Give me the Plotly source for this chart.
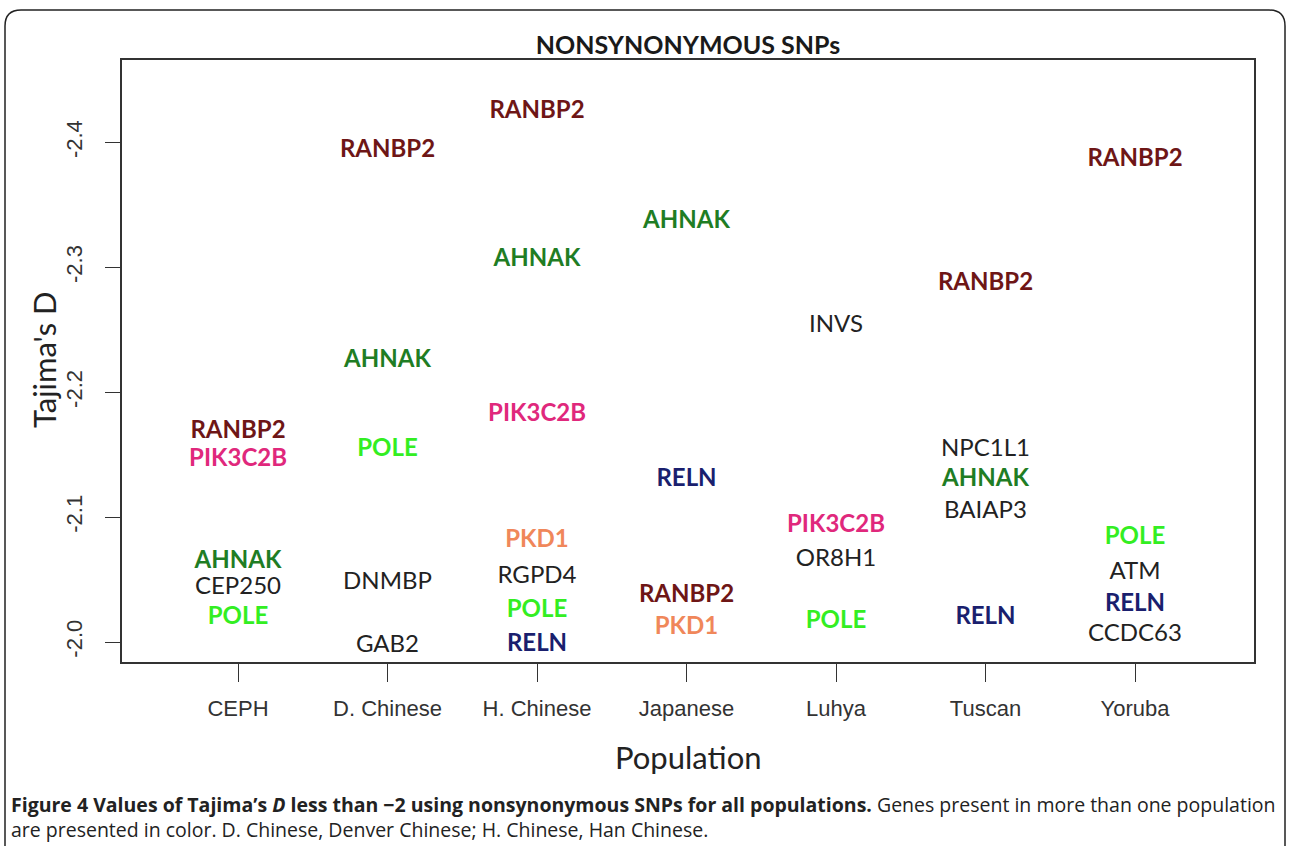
import plotly.graph_objects as go

# ---------------- data ----------------
populations = ["CEPH", "D. Chinese", "H. Chinese", "Japanese", "Luhya", "Tuscan", "Yoruba"]

pop_of_gene = [
    "CEPH", "CEPH", "CEPH", "CEPH", "CEPH",
    "D. Chinese", "D. Chinese", "D. Chinese", "D. Chinese", "D. Chinese",
    "H. Chinese", "H. Chinese", "H. Chinese", "H. Chinese", "H. Chinese", "H. Chinese", "H. Chinese",
    "Japanese", "Japanese", "Japanese", "Japanese",
    "Luhya", "Luhya", "Luhya", "Luhya",
    "Tuscan", "Tuscan", "Tuscan", "Tuscan", "Tuscan",
    "Yoruba", "Yoruba", "Yoruba", "Yoruba", "Yoruba",
]
genes = [
    "RANBP2", "PIK3C2B", "AHNAK", "CEP250", "POLE",
    "RANBP2", "AHNAK", "POLE", "DNMBP", "GAB2",
    "RANBP2", "AHNAK", "PIK3C2B", "PKD1", "RGPD4", "POLE", "RELN",
    "AHNAK", "RELN", "RANBP2", "PKD1",
    "INVS", "PIK3C2B", "OR8H1", "POLE",
    "RANBP2", "NPC1L1", "AHNAK", "BAIAP3", "RELN",
    "RANBP2", "POLE", "ATM", "RELN", "CCDC63",
]
tajima_d = [
    -2.168, -2.146, -2.064, -2.043, -2.019,
    -2.393, -2.225, -2.154, -2.047, -1.997,
    -2.424, -2.306, -2.182, -2.081, -2.052, -2.025, -1.998,
    -2.336, -2.130, -2.037, -2.011,
    -2.253, -2.093, -2.066, -2.016,
    -2.287, -2.154, -2.130, -2.104, -2.019,
    -2.386, -2.083, -2.055, -2.030, -2.006,
]
y_ticks = [-2.4, -2.3, -2.2, -2.1, -2.0]
y_tick_labels = ["-2.4", "-2.3", "-2.2", "-2.1", "-2.0"]

# genes shared between populations -> coloured (style)
gene_colors = {
    "RANBP2": "#6e1616",
    "PIK3C2B": "#e0287c",
    "AHNAK": "#1f7d24",
    "POLE": "#33ee22",
    "RELN": "#1a1f6e",
    "PKD1": "#f0875a",
}
other_color = "#222222"

fig = go.Figure()

# coloured (bold) genes
col_idx = [i for i, g in enumerate(genes) if g in gene_colors]
fig.add_trace(go.Scatter(
    x=[pop_of_gene[i] for i in col_idx],
    y=[tajima_d[i] for i in col_idx],
    text=["<b>" + genes[i] + "</b>" for i in col_idx],
    mode="text",
    textposition="middle center",
    textfont=dict(family="Lato, sans-serif", size=24,
                  color=[gene_colors[genes[i]] for i in col_idx]),
    hoverinfo="skip",
    showlegend=False,
))
# single-population genes (regular, black)
oth_idx = [i for i, g in enumerate(genes) if g not in gene_colors]
fig.add_trace(go.Scatter(
    x=[pop_of_gene[i] for i in oth_idx],
    y=[tajima_d[i] for i in oth_idx],
    text=[genes[i] for i in oth_idx],
    mode="text",
    textposition="middle center",
    textfont=dict(family="Lato, sans-serif", size=24, color=other_color),
    hoverinfo="skip",
    showlegend=False,
))

W, H = 1289, 846
L, R, T, B = 122, 35, 60, 184
pw, ph = W - L - R, H - T - B


def px2x(p):
    return (p - L) / pw


def py2y(p):
    return (H - B - p) / ph


fig.update_layout(
    width=W, height=H,
    margin=dict(l=L, r=R, t=T, b=B, autoexpand=False),
    paper_bgcolor="white",
    plot_bgcolor="white",
    title=dict(text="<b>NONSYNONYMOUS SNPs</b>", x=(L + pw / 2) / W, xanchor="center",
               y=1 - 45 / H, yanchor="middle",
               font=dict(family="Lato, sans-serif", size=25, color="#1a1a1a")),
    font=dict(family="Liberation Sans, Arial, sans-serif", color="#333333"),
)

fig.update_xaxes(
    type="category",
    categoryorder="array", categoryarray=populations,
    range=[-0.776, 6.796],
    automargin=False,
    showgrid=False, zeroline=False,
    showline=True, linecolor="#333333", linewidth=1.5, mirror=True,
    ticks="outside", ticklen=18, tickwidth=1.2, tickcolor="#333333",
    ticklabelstandoff=8,
    tickfont=dict(family="Liberation Sans, Arial, sans-serif", size=22, color="#333333"),
)
fig.update_yaxes(
    range=[-1.984, -2.466],
    automargin=False,
    tickvals=y_ticks, ticktext=y_tick_labels, tickangle=-90,
    showgrid=False, zeroline=False,
    showline=True, linecolor="#333333", linewidth=1.5, mirror=True,
    ticks="outside", ticklen=15, tickwidth=1.2, tickcolor="#333333",
    ticklabelstandoff=14,
    tickfont=dict(family="Liberation Sans, Arial, sans-serif", size=22, color="#333333"),
)

# axis titles as annotations for exact placement
fig.add_annotation(text="Population", xref="paper", yref="paper",
                   x=px2x(688), y=py2y(757), xanchor="center", yanchor="middle",
                   showarrow=False,
                   font=dict(family="Lato, sans-serif", size=31, color="#222222"))
fig.add_annotation(text="Tajima's D", xref="paper", yref="paper", textangle=-90,
                   x=px2x(44), y=py2y(360), xanchor="center", yanchor="middle",
                   showarrow=False,
                   font=dict(family="Lato, sans-serif", size=31, color="#222222"))

# outer rounded frame (paper coords)
x0, x1, y0, y1 = px2x(5), px2x(1285), py2y(10), py2y(860)
rx, ry = 16 / pw, 16 / ph
path = (f"M {x0},{y1} L {x0},{y0 - ry} Q {x0},{y0} {x0 + rx},{y0} "
        f"L {x1 - rx},{y0} Q {x1},{y0} {x1},{y0 - ry} L {x1},{y1}")
fig.add_shape(type="path", path=path, xref="paper", yref="paper",
              line=dict(color="#222222", width=1.5))

caption = ("<b>Figure 4 Values of Tajima’s <i>D</i> less than −2 using nonsynonymous SNPs for all populations.</b>"
           " Genes present in more than one population<br>"
           "are presented in color. D. Chinese, Denver Chinese; H. Chinese, Han Chinese.")
fig.add_annotation(text=caption, xref="paper", yref="paper", x=px2x(9), y=py2y(817),
                   xanchor="left", yanchor="middle", align="left", showarrow=False,
                   font=dict(family="Open Sans, sans-serif", size=19.5, color="#222222"))

fig.write_html("out.html", config={"displayModeBar": False},
               post_script="document.body.style.margin='0';")
